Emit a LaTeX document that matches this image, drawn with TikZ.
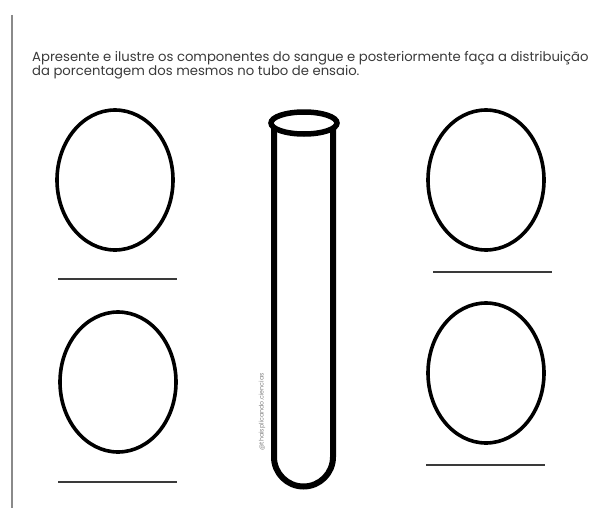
\documentclass[tikz,border=0pt]{standalone}
\usepackage{fontspec}
\setmainfont{Poppins}
\usetikzlibrary{shapes.geometric, positioning, calc}
\definecolor{inkgray}{HTML}{3A3A3A}
\definecolor{margingray}{HTML}{8A8A8A}
\tikzset{
  % Cells to draw
  celloval/.style={
    ellipse, draw=black, line width=3.6pt, fill=white,
    minimum width=#1*2pt, minimum height=140pt, inner sep=0pt,
  },
  celloval/.default={58},
  % Lines for the names
  nameline/.style={line width=1.6pt, draw=inkgray},
  % Tube
  tubewall/.style={line width=6pt, draw=black},
  tuberim/.style={ellipse, draw=black, line width=5.5pt, fill=white,
    minimum width=66pt, minimum height=22pt, inner sep=0pt},
}
\begin{document}
\begin{tikzpicture}[x=1pt, y=-1pt]

  \useasboundingbox (0,0) rectangle (602,511);

  % Margin
  \coordinate (margintop) at (12,15);
  \coordinate (marginbot) at (12,508);
  \draw[margingray, line width=1.2pt] (margintop) -- (marginbot);

  % Statement
  \node[anchor=north west, align=left, inner sep=0pt, text=inkgray,
        font=\fontsize{13.2}{13.4}\selectfont] (task) at (32,51) {%
    Apresente e ilustre os componentes do sangue e posteriormente faça a distribuição\\
    da porcentagem dos mesmos no tubo de ensaio.};

  % Left column
  \node[celloval] (ovalA) at (115,180) {};
  \node[celloval] (ovalC) at (118,382) {};
  % Right column
  \node[celloval] (ovalB) at (486,180) {};
  \node[celloval] (ovalD) at (486,373) {};

  % Name lines
  \draw[nameline] (58,279) -- (177,279);
  \draw[nameline] (433,272) -- (552,272);
  \draw[nameline] (58,482) -- (177,482);
  \draw[nameline] (426,465) -- (545,465);

  % Test tube
  \coordinate (tubeL) at (274,128);
  \coordinate (tubeR) at (333,128);
  \draw[tubewall] (tubeL) -- (274,457) arc[start angle=180, end angle=0, radius=29.5] -- (tubeR);
  \node[tuberim] (rim) at (304,123) {};

  % Watermark
  \node[rotate=90, text=gray, font=\fontsize{6.3}{7}\selectfont, inner sep=0pt]
    (mark) at (262,412) {@thaisplicando.ciencias};

\end{tikzpicture}
\end{document}
